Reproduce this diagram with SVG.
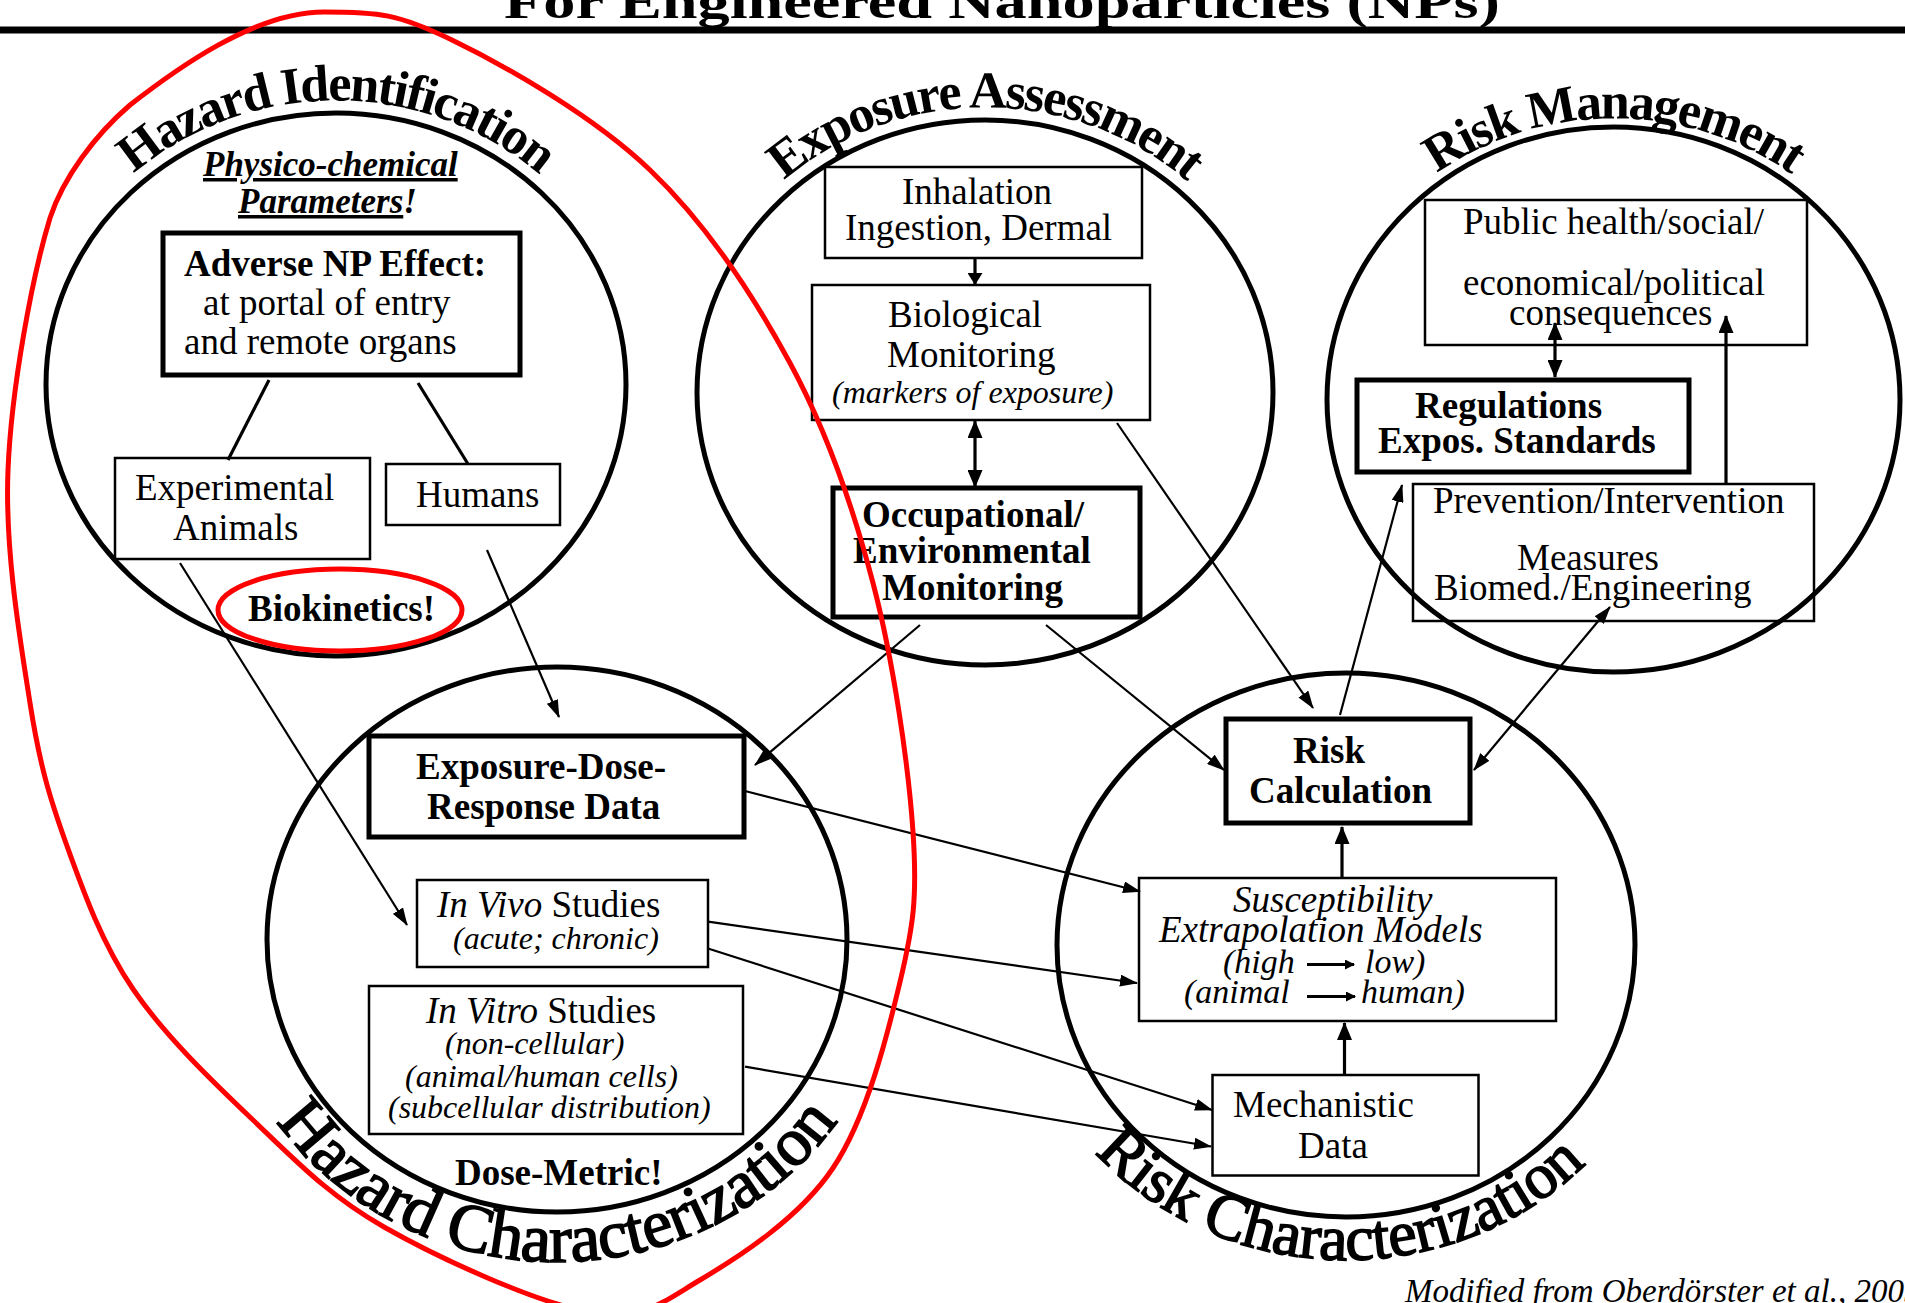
<svg xmlns="http://www.w3.org/2000/svg" width="1905" height="1303" viewBox="0 0 1905 1303">
<style>
text{font-family:"Liberation Serif","Times New Roman",serif;fill:#000}
.r{font-size:37px}
.bd{font-size:37px;font-weight:bold}
.it{font-style:italic}
.sm{font-size:32px;font-style:italic}
.arc{font-size:52px;font-weight:bold;letter-spacing:-2px}
.arcb{font-size:68px;letter-spacing:-0.5px;stroke:#000;stroke-width:1.6px}
.cir{fill:none;stroke:#000;stroke-width:5}
.bx{fill:none;stroke:#000;stroke-width:2.5}
.bxt{fill:none;stroke:#000;stroke-width:5}
.ln{fill:none;stroke:#000;stroke-width:2.2}
.ln3{fill:none;stroke:#000;stroke-width:3.2}
.red{fill:none;stroke:#f00;stroke-width:5}
</style>
<defs>
<path id="pHI" d="M34,384.5 A302,284 0 0 1 638,384.5"/>
<path id="pEA" d="M684,392.5 A301,285 0 0 1 1286,392.5"/>
<path id="pRM" d="M1316,399.5 A297.5,281 0 0 1 1911,399.5"/>
<path id="pHC" d="M217,939.3 A340,322.5 0 0 0 897,939.3"/>
<path id="pRC" d="M1012,945 A334,315 0 0 0 1680,945"/>
<marker id="a" viewBox="0 0 18 12" refX="17" refY="6" markerWidth="18" markerHeight="12" markerUnits="userSpaceOnUse" orient="auto-start-reverse"><path d="M0,0L18,6L0,12z"/></marker>
<marker id="b" viewBox="0 0 18 15" refX="17" refY="7.5" markerWidth="18" markerHeight="15" markerUnits="userSpaceOnUse" orient="auto-start-reverse"><path d="M0,0L18,7.5L0,15z"/></marker>
<marker id="s" viewBox="0 0 12 15" refX="11" refY="7.5" markerWidth="12" markerHeight="15" markerUnits="userSpaceOnUse" orient="auto"><path d="M0,0L12,7.5L0,15z"/></marker>
<marker id="x" viewBox="0 0 10 10" refX="9" refY="5" markerWidth="10" markerHeight="10" markerUnits="userSpaceOnUse" orient="auto"><path d="M0,0L10,5L0,10z"/></marker>
</defs>
<rect width="1905" height="1303" fill="#fff"/>

<g id="title">
<text x="1002" y="18" font-size="48" font-weight="bold" text-anchor="middle" textLength="996" lengthAdjust="spacingAndGlyphs">For Engineered Nanoparticles (NPs)</text>
<rect x="0" y="26.5" width="1905" height="7" fill="#000"/>
</g>

<g id="hazard-identification">
<ellipse class="cir" cx="336" cy="384.5" rx="290" ry="271.5"/>
<text class="arc" text-anchor="middle"><textPath href="#pHI" startOffset="50%">Hazard Identification</textPath></text>
<text x="203" y="176" font-size="35" font-weight="bold" font-style="italic" text-decoration="underline">Physico-chemical</text>
<text x="238" y="213" font-size="35" font-weight="bold" font-style="italic"><tspan text-decoration="underline">Parameters</tspan>!</text>
</g>
<g id="adverse-effect">
<rect class="bxt" x="163" y="233" width="357" height="142"/>
<text class="bd" x="184" y="276">Adverse NP Effect:</text>
<text class="r" x="203" y="315">at portal of entry</text>
<text class="r" x="184" y="354">and remote organs</text>
</g>
<g id="experimental-animals">
<rect class="bx" x="115" y="458" width="255" height="101"/>
<text class="r" x="135" y="500">Experimental</text>
<text class="r" x="173" y="540">Animals</text>
</g>
<g id="humans">
<rect class="bx" x="386" y="464" width="174" height="61"/>
<text class="r" x="416" y="507">Humans</text>
</g>
<g id="biokinetics">
<text class="bd" x="248" y="621">Biokinetics!</text>
</g>

<g id="exposure-assessment">
<ellipse class="cir" cx="985" cy="392.5" rx="288" ry="272.5"/>
<text class="arc" text-anchor="middle"><textPath href="#pEA" startOffset="50%">Exposure Assessment</textPath></text>
</g>
<g id="inhalation">
<rect class="bx" x="825" y="167" width="317" height="91"/>
<text class="r" x="902" y="204">Inhalation</text>
<text class="r" x="845" y="240">Ingestion, Dermal</text>
</g>
<g id="biological-monitoring">
<rect class="bx" x="812" y="285" width="338" height="135"/>
<text class="r" x="888" y="327">Biological</text>
<text class="r" x="887" y="367">Monitoring</text>
<text class="sm" x="832" y="403">(markers of exposure)</text>
</g>
<g id="occupational-monitoring">
<rect class="bxt" x="833" y="488" width="307" height="129"/>
<text class="bd" x="862" y="527">Occupational/</text>
<text class="bd" x="853" y="563">Environmental</text>
<text class="bd" x="882" y="600">Monitoring</text>
</g>

<g id="risk-management">
<ellipse class="cir" cx="1613.5" cy="399.5" rx="286.5" ry="272.5"/>
<text class="arc" text-anchor="middle"><textPath href="#pRM" startOffset="50%">Risk Management</textPath></text>
</g>
<g id="consequences">
<rect class="bx" x="1425" y="200" width="382" height="145"/>
<text class="r" x="1463" y="234">Public health/social/</text>
<text class="r" x="1463" y="295">economical/political</text>
<text class="r" x="1509" y="325">consequences</text>
</g>
<g id="regulations">
<rect class="bxt" x="1357" y="380" width="332" height="92"/>
<text class="bd" x="1415" y="418">Regulations</text>
<text class="bd" x="1378" y="453">Expos. Standards</text>
</g>
<g id="prevention">
<rect class="bx" x="1413" y="484" width="401" height="137"/>
<text class="r" x="1433" y="513">Prevention/Intervention</text>
<text class="r" x="1517" y="570">Measures</text>
<text class="r" x="1434" y="600">Biomed./Engineering</text>
</g>

<g id="hazard-characterization">
<ellipse class="cir" cx="557" cy="939.5" rx="290" ry="272.5"/>
<text class="arcb" text-anchor="middle"><textPath href="#pHC" startOffset="50%">Hazard Characterization</textPath></text>
<text class="bd" x="455" y="1185">Dose-Metric!</text>
</g>
<g id="exposure-dose-response">
<rect class="bxt" x="369" y="736" width="375" height="101"/>
<text class="bd" x="416" y="779">Exposure-Dose-</text>
<text class="bd" x="427" y="819">Response Data</text>
</g>
<g id="in-vivo">
<rect class="bx" x="417" y="880" width="291" height="87"/>
<text class="r" x="437" y="917"><tspan font-style="italic">In Vivo</tspan> Studies</text>
<text class="sm" x="453" y="949">(acute; chronic)</text>
</g>
<g id="in-vitro">
<rect class="bx" x="369" y="986" width="374" height="148"/>
<text class="r" x="426" y="1023"><tspan font-style="italic">In Vitro</tspan> Studies</text>
<text class="sm" x="445" y="1054">(non-cellular)</text>
<text class="sm" x="405" y="1087">(animal/human cells)</text>
<text class="sm" x="388" y="1118">(subcellular distribution)</text>
</g>

<g id="risk-characterization">
<ellipse class="cir" cx="1346" cy="945" rx="289" ry="272"/>
<text class="arcb" text-anchor="middle" style="font-size:64px"><textPath href="#pRC" startOffset="49.2%">Risk Characterization</textPath></text>
</g>
<g id="risk-calculation">
<rect class="bxt" x="1226" y="719" width="244" height="104"/>
<text class="bd" x="1293" y="763">Risk</text>
<text class="bd" x="1249" y="803">Calculation</text>
</g>
<g id="susceptibility">
<rect class="bx" x="1139" y="878" width="417" height="143"/>
<text class="r it" x="1233" y="912">Susceptibility</text>
<text class="r it" x="1159" y="942">Extrapolation Models</text>
<text class="it" font-size="34" x="1223" y="973">(high</text>
<text class="it" font-size="34" x="1365" y="973">low)</text>
<text class="it" font-size="34" x="1184" y="1003">(animal</text>
<text class="it" font-size="34" x="1361" y="1003">human)</text>
<line class="ln3" x1="1307" y1="964.5" x2="1354" y2="964.5" marker-end="url(#x)"/>
<line class="ln3" x1="1307" y1="996.5" x2="1355" y2="996.5" marker-end="url(#x)"/>
</g>
<g id="mechanistic-data">
<rect class="bx" x="1212.5" y="1075" width="266" height="100.5"/>
<text class="r" x="1233" y="1117">Mechanistic</text>
<text class="r" x="1298" y="1158">Data</text>
</g>

<g id="connectors">
<line class="ln3" x1="269" y1="380" x2="228" y2="460"/>
<line class="ln3" x1="418" y1="383" x2="468" y2="464"/>
<line class="ln" x1="487" y1="550" x2="559" y2="717" marker-end="url(#a)"/>
<line class="ln" x1="180" y1="563" x2="407" y2="925" marker-end="url(#a)"/>
<line class="ln3" x1="975" y1="259" x2="975" y2="284" marker-end="url(#s)"/>
<line class="ln3" x1="975" y1="421" x2="975" y2="487" marker-start="url(#b)" marker-end="url(#b)"/>
<line class="ln" x1="920" y1="625" x2="755" y2="765" marker-end="url(#a)"/>
<line class="ln" x1="1046" y1="625" x2="1224" y2="770" marker-end="url(#a)"/>
<line class="ln" x1="1117" y1="423" x2="1313" y2="708" marker-end="url(#a)"/>
<line class="ln" x1="1340" y1="715" x2="1402" y2="485" marker-end="url(#a)"/>
<line class="ln" x1="1474" y1="770" x2="1610" y2="607" marker-start="url(#a)" marker-end="url(#a)"/>
<line class="ln3" x1="1555" y1="323" x2="1555" y2="377" marker-start="url(#b)" marker-end="url(#b)"/>
<line class="ln3" x1="1726" y1="485" x2="1726" y2="316" marker-end="url(#b)"/>
<line class="ln3" x1="1342" y1="878" x2="1342" y2="827" marker-end="url(#b)"/>
<line class="ln3" x1="1344.5" y1="1075" x2="1344.5" y2="1023" marker-end="url(#b)"/>
<line class="ln" x1="745" y1="791" x2="1140" y2="891.5" marker-end="url(#a)"/>
<line class="ln" x1="708" y1="921.6" x2="1137" y2="983" marker-end="url(#a)"/>
<line class="ln" x1="708" y1="948.5" x2="1212" y2="1110" marker-end="url(#a)"/>
<line class="ln" x1="745" y1="1066.7" x2="1211" y2="1146.5" marker-end="url(#a)"/>
</g>

<g id="highlights">
<ellipse class="red" cx="340" cy="610" rx="122" ry="41"/>
<path class="red" d="M324,12 C379,12 397.7,13.7 452,40 C506.3,66.3 593.7,116.2 650,170 C706.3,223.8 752.8,294.2 790,363 C827.2,431.8 852.5,504.8 873,583 C893.5,661.2 908.5,765.5 913,832 C917.5,898.5 913.3,926 900,982 C886.7,1038 866.3,1118.3 833,1168 C799.7,1217.7 740.5,1256 700,1280 C659.5,1304 642.7,1320.8 590,1312 C537.3,1303.2 440.2,1259 384,1227 C327.8,1195 294.8,1159.7 253,1120 C211.2,1080.3 164,1034.7 133,989 C102,943.3 84.2,893.7 67,846 C49.8,798.3 39.8,765.7 30,703 C20.2,640.3 4.7,550.8 8,470 C11.3,389.2 31.8,277.8 50,218 C63,178 95,135 130,105 C175,70 254,12 324,12 Z"/>
</g>

<text id="source" class="it" font-size="33" x="1405" y="1302">Modified from Oberdörster et al., 2005</text>
</svg>
